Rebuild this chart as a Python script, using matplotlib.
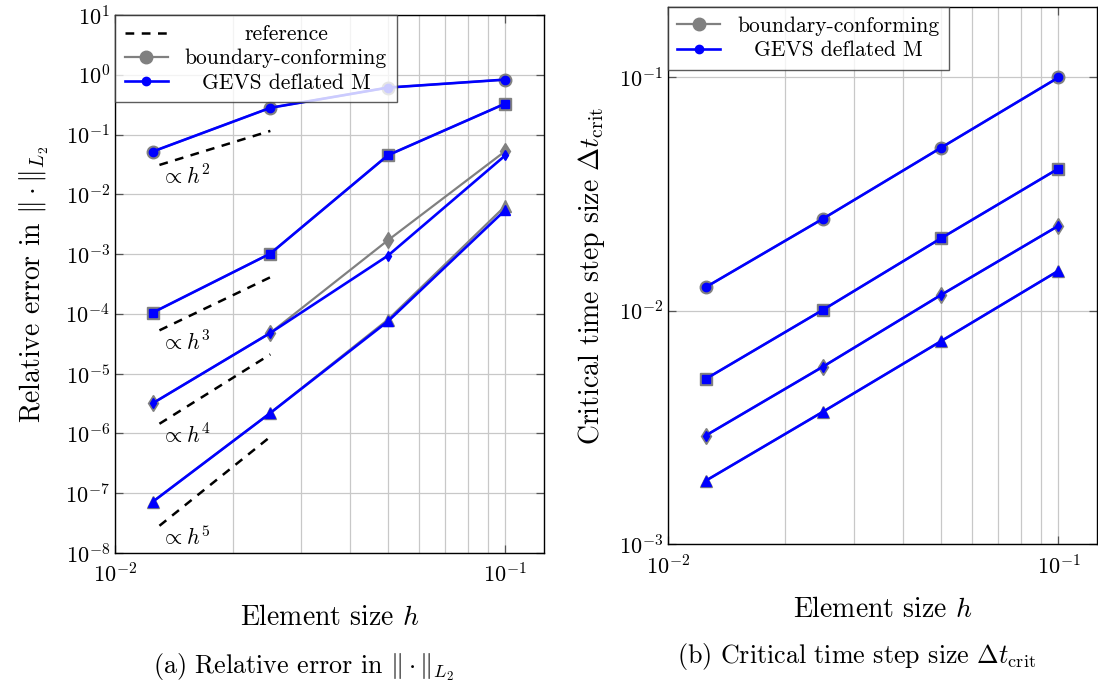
import matplotlib
matplotlib.use("Agg")
import matplotlib.pyplot as plt
from matplotlib.ticker import LogLocator, NullFormatter

plt.rcParams['font.family'] = 'serif'
plt.rcParams['font.serif'] = ['cmr10']
plt.rcParams['mathtext.fontset'] = 'cm'
plt.rcParams['axes.formatter.use_mathtext'] = True

# element sizes
h = [0.0125, 0.025, 0.05, 0.1]

# (a) relative error, boundary-conforming
err_bc_circ = [0.052, 0.28, 0.61, 0.83]
err_bc_sq = [1.05e-4, 1.02e-3, 0.045, 0.33]
err_bc_dia = [3.2e-6, 4.8e-5, 1.7e-3, 0.053]
err_bc_tri = [7.2e-8, 2.2e-6, 8.0e-5, 6.4e-3]
# (a) relative error, GEVS deflated M
err_gv_circ = [0.052, 0.28, 0.61, 0.83]
err_gv_sq = [1.05e-4, 1.02e-3, 0.045, 0.33]
err_gv_dia = [3.2e-6, 4.8e-5, 9.4e-4, 0.045]
err_gv_tri = [7.2e-8, 2.2e-6, 7.5e-5, 5.5e-3]

# reference slopes (start / end of dashed segments)
ref_h = [0.013, 0.025]
ref_p2 = [0.031, 0.115]
ref_p3 = [5.3e-5, 4.1e-4]
ref_p4 = [1.45e-6, 2.1e-5]
ref_p5 = [2.85e-8, 8.8e-7]
ref_labels = [r'$\propto h^2$', r'$\propto h^3$', r'$\propto h^4$', r'$\propto h^5$']

# (b) critical time step size
dt_bc_circ = [0.0126, 0.0248, 0.0498, 0.0997]
dt_bc_sq = [5.1e-3, 0.0101, 0.0204, 0.0406]
dt_bc_dia = [2.92e-3, 5.77e-3, 0.01167, 0.0231]
dt_bc_tri = [1.87e-3, 3.70e-3, 7.4e-3, 0.01483]
dt_gv_circ = [0.0126, 0.0248, 0.0498, 0.0997]
dt_gv_sq = [5.1e-3, 0.0101, 0.0204, 0.0406]
dt_gv_dia = [2.92e-3, 5.77e-3, 0.01167, 0.0231]
dt_gv_tri = [1.87e-3, 3.70e-3, 7.4e-3, 0.01483]

GREY = '#808080'
BLUE = '#0000ff'
markers = ['o', 's', 'd', '^']
big = [9, 8.5, 8, 9]
small = [6, 5.5, 5.5, 6.5]


def draw_series(ax, bc_list, gv_list):
    lines = []
    for ys, m, ms in zip(bc_list, markers, big):
        l, = ax.plot(h, ys, color=GREY, lw=1.6, marker=m, ms=ms, zorder=3)
        lines.append(l)
    first_bc = lines[0]
    lines = []
    for ys, m, ms in zip(gv_list, markers, small):
        l, = ax.plot(h, ys, color=BLUE, lw=1.9, marker=m, ms=ms, zorder=4)
        lines.append(l)
    return first_bc, lines[0]


def style_axes(ax):
    ax.set_xscale('log')
    ax.set_yscale('log')
    ax.set_xlim(0.01, 0.1255)
    ax.xaxis.set_major_locator(LogLocator(base=10, numticks=20))
    ax.yaxis.set_major_locator(LogLocator(base=10, numticks=20))
    ax.xaxis.set_minor_locator(LogLocator(base=10, subs=range(2, 10), numticks=20))
    ax.yaxis.set_minor_locator(LogLocator(base=10, subs=range(2, 10), numticks=20))
    ax.yaxis.set_minor_formatter(NullFormatter())
    ax.xaxis.set_minor_formatter(NullFormatter())
    ax.grid(True, which='major', color='#c8c8c8', lw=0.9)
    ax.grid(True, which='minor', axis='x', color='#c8c8c8', lw=0.9)
    ax.tick_params(which='major', direction='in', length=6, width=0.9,
                   top=True, right=True, labelsize=16, color='#555555')
    ax.tick_params(axis='x', which='major', pad=7)
    ax.tick_params(which='minor', length=0)
    for s in ax.spines.values():
        s.set_linewidth(1.0)
    ax.set_xlabel('Element size $h$', fontsize=20, labelpad=13)


def center_legend_text(fig, leg):
    fig.canvas.draw()
    r = fig.canvas.get_renderer()
    texts = leg.get_texts()
    ws = [t.get_window_extent(r).width for t in texts]
    m = max(ws)
    for t, w in zip(texts, ws):
        t.set_x((m - w) / 2)


fig = plt.figure(figsize=(10.98, 6.81), dpi=100)
ax1 = fig.add_axes([0.1047, 0.188, 0.3907, 0.790])
ax2 = fig.add_axes([0.6081, 0.2007, 0.3910, 0.7893])

leg_kw = dict(loc='upper left', bbox_to_anchor=(0, 1), borderaxespad=0, fontsize=15.5,
              fancybox=False, edgecolor='#333333', framealpha=0.8, handlelength=2.0,
              labelspacing=0.22, borderpad=0.45)

# ---- (a)
ref_lines = []
for ys in [ref_p2, ref_p3, ref_p4, ref_p5]:
    l, = ax1.plot(ref_h, ys, color='black', lw=1.8, ls=(0, (3.5, 3)), zorder=2)
    ref_lines.append(l)
for ys, lab in zip([ref_p2, ref_p3, ref_p4, ref_p5], ref_labels):
    ax1.annotate(lab, xy=(ref_h[0], ys[0]), xytext=(1, 0), textcoords='offset points',
                 ha='left', va='top', fontsize=16)

bc1, gv1 = draw_series(ax1, [err_bc_circ, err_bc_sq, err_bc_dia, err_bc_tri],
                       [err_gv_circ, err_gv_sq, err_gv_dia, err_gv_tri])
style_axes(ax1)
ax1.set_ylim(1e-8, 1e1)
ax1.set_ylabel(r'Relative error in $\|\cdot\|_{L_2}$', fontsize=20, labelpad=10)
leg1 = ax1.legend([ref_lines[0], bc1, gv1], ['reference', 'boundary-conforming', 'GEVS deflated M'],
                  **leg_kw)
leg1.get_frame().set_linewidth(1.0)

# ---- (b)
bc2, gv2 = draw_series(ax2, [dt_bc_circ, dt_bc_sq, dt_bc_dia, dt_bc_tri],
                       [dt_gv_circ, dt_gv_sq, dt_gv_dia, dt_gv_tri])
style_axes(ax2)
ax2.set_ylim(1e-3, 0.2)
ax2.set_ylabel(r'Critical time step size $\Delta t_{\mathrm{crit}}$', fontsize=20, labelpad=8)
leg2 = ax2.legend([bc2, gv2], ['boundary-conforming', 'GEVS deflated M'], **leg_kw)
leg2.get_frame().set_linewidth(1.0)

fig.text(304 / 1098, 1 - 673 / 681, r'(a) Relative error in $\|\cdot\|_{L_2}$',
         ha='center', va='baseline', fontsize=18.7)
fig.text(857 / 1098, 1 - 663 / 681, r'(b) Critical time step size $\Delta t_{\mathrm{crit}}$',
         ha='center', va='baseline', fontsize=18.7)

center_legend_text(fig, leg1)
center_legend_text(fig, leg2)

fig.savefig('out.png', dpi=100)
